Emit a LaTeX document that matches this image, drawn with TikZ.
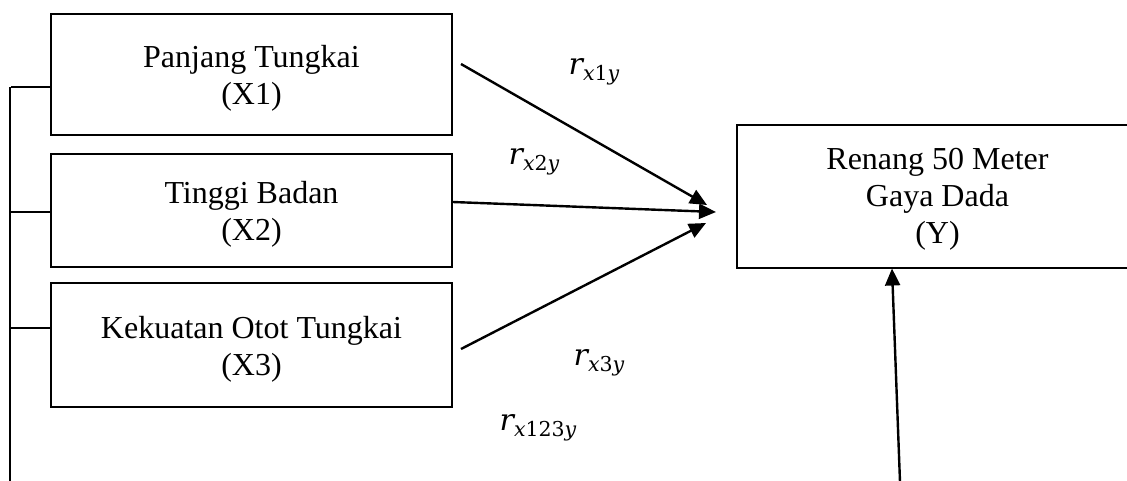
\documentclass[tikz,border=0pt]{standalone}
\usepackage{fontspec}
\setmainfont{Liberation Serif}
\newfontfamily\lblfont{DejaVu Serif}
\usetikzlibrary{arrows.meta}
\newcommand{\rlbl}[1]{{\fontsize{30}{36}\selectfont\lblfont\itshape r}\raisebox{-6pt}{\fontsize{20.5}{24}\selectfont\lblfont #1}}
\begin{document}
\begin{tikzpicture}[x=1pt,y=-1pt,
  varbox/.style={draw,line width=2pt,minimum width=401pt,align=center,inner sep=0pt,
    font=\fontsize{32}{37}\selectfont},
  conn/.style={line width=2.4pt,-{Triangle[length=17pt,width=15pt]}},
  bracket/.style={line width=1.3pt},
  lbl/.style={inner sep=0pt}]
\clip (0,0) rectangle (1127,480);
\node[varbox,minimum height=121pt] (B1) at (251.5,74.5) {\rule{0pt}{30pt}Panjang Tungkai\\(X1)};
\node[varbox,minimum height=113pt] (B2) at (251.5,210.5) {\rule{0pt}{30pt}Tinggi Badan\\(X2)};
\node[varbox,minimum height=124pt] (B3) at (251.5,345) {\rule{0pt}{30pt}Kekuatan Otot Tungkai\\(X3)};
\node[varbox,minimum height=143pt] (Y) at (937.5,196) {\rule{0pt}{28pt}Renang 50 Meter\\Gaya Dada\\(Y)};
% connector end points
\coordinate (s1) at ([shift={(8,-10.5)}]B1.east);
\coordinate (s2) at ([shift={(0,-8.5)}]B2.east);
\coordinate (s3) at ([shift={(8,4)}]B3.east);
\coordinate (t1) at ([shift={(-29,9)}]Y.west);
\coordinate (t2) at ([shift={(-20,16)}]Y.west);
\coordinate (t3) at ([shift={(-30,27)}]Y.west);
\coordinate (t4) at ([shift={(-45.5,0)}]Y.south);
\coordinate (s4) at (900,482);
\draw[conn] (s1) -- (t1);
\draw[conn] (s2) -- (t2);
\draw[conn] (s3) -- (t3);
\draw[conn] (s4) -- (t4);
% bracket on the left
\coordinate (k1) at ([shift={(0,12.5)}]B1.west);
\coordinate (k2) at ([shift={(0,1.5)}]B2.west);
\coordinate (k3) at ([shift={(0,-17)}]B3.west);
\coordinate (kb) at (10,482);
\draw[bracket] (kb) -- (kb |- k1);
\draw[bracket] (k1) -- ([xshift=-39pt]k1);
\draw[bracket] (k2) -- ([xshift=-39pt]k2);
\draw[bracket] (k3) -- ([xshift=-39pt]k3);
% labels
\node[lbl] (r1) at (594,72) {\rlbl{\itshape x\upshape 1\itshape y}};
\node[lbl] (r2) at (534,162) {\rlbl{\itshape x\upshape 2\itshape y}};
\node[lbl] (r3) at (599,363) {\rlbl{\itshape x\upshape 3\itshape y}};
\node[lbl] (r4) at (538,428) {\rlbl{\itshape x\upshape 123\itshape y}};
\end{tikzpicture}
\end{document}
